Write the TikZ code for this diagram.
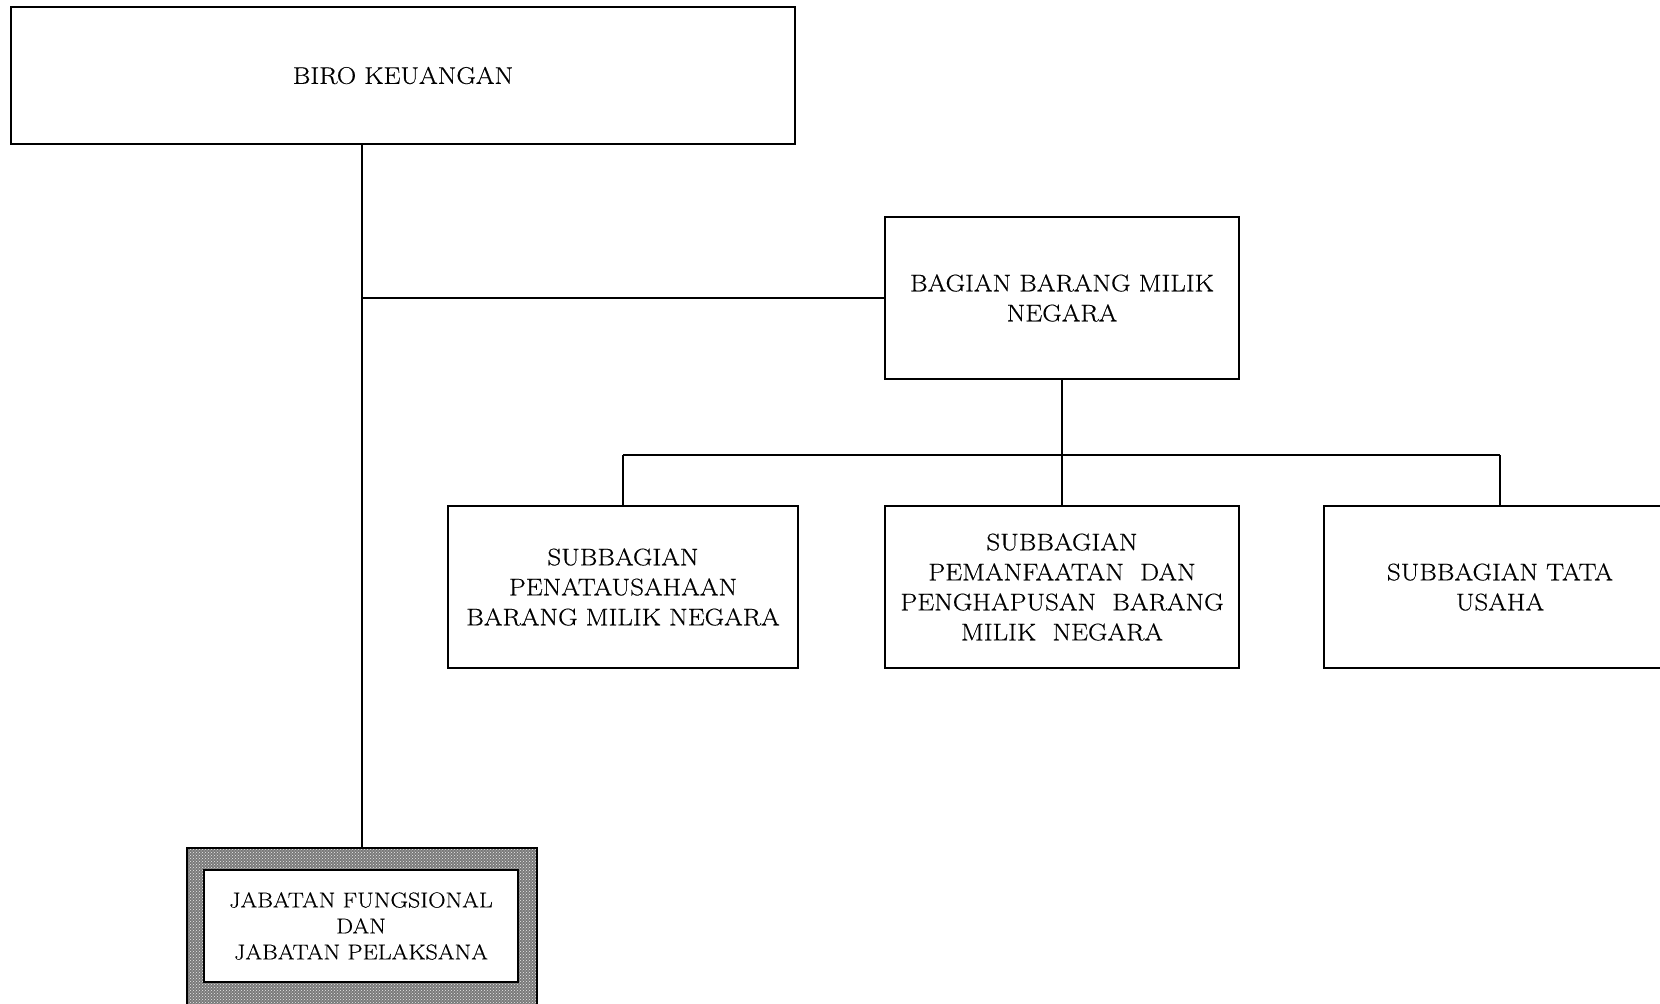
\documentclass[tikz,border=0pt]{standalone}
\usepackage{fontspec}
\setmainfont{Latin Modern Roman}[FakeStretch=1.12, FakeBold=0.4]
\usetikzlibrary{patterns}
\begin{document}
\begin{tikzpicture}[x=1pt,y=-1pt,
  unit/.style={draw, line width=2pt, inner sep=0pt, align=center,
    font=\fontsize{24}{30}\selectfont},
  link/.style={line width=2pt},
  shaded/.style={draw, line width=2pt, inner sep=0pt,
    preaction={fill=black!52},
    pattern=crosshatch dots, pattern color=black!8}]
\useasboundingbox (0,0) rectangle (1660,1004);
\clip (0,0) rectangle (1660,1004);

% units
\node[unit, minimum width=784, minimum height=137] (biro) at (403,75.5) {BIRO KEUANGAN};
\node[unit, minimum width=354, minimum height=162] (bagian) at (1062,298)
  {BAGIAN BARANG MILIK\\NEGARA};
\node[unit, minimum width=350, minimum height=162] (sub1) at (623,587)
  {SUBBAGIAN\\PENATAUSAHAAN\\BARANG MILIK NEGARA};
\node[unit, minimum width=354, minimum height=162] (sub2) at (1062,587)
  {SUBBAGIAN\\PEMANFAATAN\ \ DAN\\PENGHAPUSAN\ \ BARANG\\MILIK\ \ NEGARA};
\node[unit, minimum width=352, minimum height=162] (sub3) at (1500,587)
  {SUBBAGIAN TATA\\USAHA};

% functional positions: shaded frame with white inner box
\node[shaded, minimum width=350, minimum height=176] (jab) at (362,936) {};
\node[unit, fill=white, minimum width=314, minimum height=112,
  font=\fontsize{21.5}{26}\selectfont] (jabin) at (361,926)
  {JABATAN FUNGSIONAL\\DAN\\JABATAN PELAKSANA};

% connectors
\coordinate (bus) at (0,455);
\draw[link] (jab.north |- biro.south) -- (jab.north);
\draw[link] (jab.north |- bagian.west) -- (bagian.west);
\draw[link] (bagian.south) -- (bagian.south |- bus);
\draw[link] (sub1.north |- bus) -- (sub3.north |- bus);
\draw[link] (sub1.north |- bus) -- (sub1.north);
\draw[link] (sub2.north |- bus) -- (sub2.north);
\draw[link] (sub3.north |- bus) -- (sub3.north);
\end{tikzpicture}
\end{document}
